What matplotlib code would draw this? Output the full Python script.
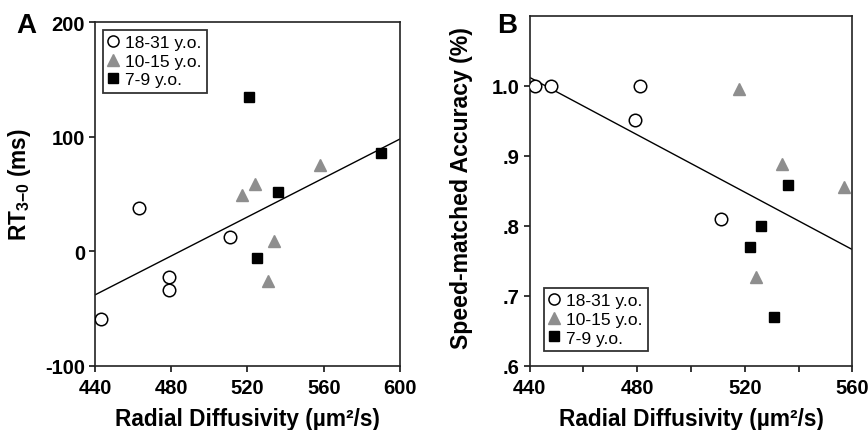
import matplotlib
matplotlib.use("Agg")
import matplotlib.pyplot as plt
from matplotlib.lines import Line2D

plt.rcParams['font.family'] = ['Liberation Sans', 'DejaVu Sans']
plt.rcParams['mathtext.fontset'] = 'custom'
plt.rcParams['mathtext.rm'] = 'Liberation Sans:bold'
plt.rcParams['mathtext.default'] = 'rm'
plt.rcParams['axes.unicode_minus'] = False

# Panel A: RT3-0 vs radial diffusivity
a_adult_x = [443, 463, 479, 479, 511]
a_adult_y = [-59, 37.5, -22, -34, 12.5]
a_teen_x = [517, 524, 534, 531, 558]
a_teen_y = [49, 59, 9, -26, 75]
a_child_x = [521, 536, 525, 590]
a_child_y = [135, 52, -6, 86]
a_fit_x = [440, 600]
a_fit_y = [-38, 98]

# Panel B: speed-matched accuracy vs radial diffusivity
b_adult_x = [442, 448, 481, 479, 511]
b_adult_y = [1.0, 1.0, 1.0, 0.951, 0.81]
b_teen_x = [518, 534, 557, 524]
b_teen_y = [0.995, 0.888, 0.855, 0.727]
b_child_x = [536, 526, 522, 531]
b_child_y = [0.858, 0.80, 0.77, 0.67]
b_fit_x = [440, 560]
b_fit_y = [1.012, 0.766]

group_labels = ['18-31 y.o.', '10-15 y.o.', '7-9 y.o.']
grey = '#8e8e8e'

fig = plt.figure(figsize=(8.68, 4.31), dpi=100)
axA = fig.add_axes([0.1094, 0.1485, 0.3514, 0.798])
axB = fig.add_axes([0.6102, 0.1490, 0.3718, 0.8120])


def draw_points(ax, ax_x, ay, tx, ty, cx, cy, fx, fy):
    ax.plot(fx, fy, color='black', lw=1.0, zorder=1)
    ax.plot(ax_x, ay, 'o', ms=9, mfc='white', mec='black', mew=1.1, ls='none', zorder=3)
    ax.plot(tx, ty, '^', ms=9, color=grey, ls='none', zorder=3)
    ax.plot(cx, cy, 's', ms=7.5, color='black', ls='none', zorder=3)


def style_axes(ax):
    for s in ax.spines.values():
        s.set_linewidth(1.2)
        s.set_color('#222222')
    ax.tick_params(direction='out', length=4, width=1.1, labelsize=14.5, pad=3)
    ax.tick_params(axis='x', pad=5)
    for lab in ax.get_xticklabels() + ax.get_yticklabels():
        lab.set_fontweight('bold')


def add_legend(ax, **kw):
    handles = [
        Line2D([], [], marker='o', ls='none', ms=8, mfc='white', mec='black', mew=1.1),
        Line2D([], [], marker='^', ls='none', ms=8, color=grey),
        Line2D([], [], marker='s', ls='none', ms=6.5, color='black'),
    ]
    leg = ax.legend(handles, group_labels, fontsize=12.5, frameon=True,
                    fancybox=False, handlelength=0.6, handletextpad=0.4,
                    borderpad=0.3, labelspacing=0.2, **kw)
    leg.get_frame().set_edgecolor('black')
    leg.get_frame().set_linewidth(1.3)
    return leg


draw_points(axA, a_adult_x, a_adult_y, a_teen_x, a_teen_y, a_child_x, a_child_y, a_fit_x, a_fit_y)
axA.set_xlim(440, 600)
axA.set_ylim(-100, 200)
axA.set_xticks([440, 480, 520, 560, 600])
axA.set_yticks([-100, 0, 100, 200])
style_axes(axA)
axA.set_xlabel('Radial Diffusivity (\u00b5m\u00b2/s)', fontsize=16.3, fontweight='bold', labelpad=7)
axA.set_ylabel(r'RT$_{3{-}0}$ (ms)', fontsize=16.3, fontweight='bold')
axA.yaxis.set_label_coords(-0.203, 0.53)
add_legend(axA, loc='upper left', borderaxespad=0.45)

draw_points(axB, b_adult_x, b_adult_y, b_teen_x, b_teen_y, b_child_x, b_child_y, b_fit_x, b_fit_y)
axB.set_xlim(440, 560)
axB.set_ylim(0.6, 1.1)
axB.set_xticks([440, 460, 480, 500, 520, 540, 560])
axB.set_xticklabels(['440', '', '480', '', '520', '', '560'])
axB.set_yticks([0.6, 0.7, 0.8, 0.9, 1.0])
axB.set_yticklabels(['.6', '.7', '.8', '.9', '1.0'])
style_axes(axB)
axB.set_xlabel('Radial Diffusivity (\u00b5m\u00b2/s)', fontsize=16.3, fontweight='bold', labelpad=7)
axB.set_ylabel('Speed-matched Accuracy (%)', fontsize=16.6, fontweight='bold')
axB.yaxis.set_label_coords(-0.176, 0.51)
add_legend(axB, loc='lower left', bbox_to_anchor=(0.043, 0.043), borderaxespad=0)

fig.text(0.030, 0.940, 'A', fontsize=20, fontweight='bold', ha='center', va='center')
fig.text(0.584, 0.940, 'B', fontsize=20, fontweight='bold', ha='center', va='center')

fig.savefig('out.png', dpi=100)
